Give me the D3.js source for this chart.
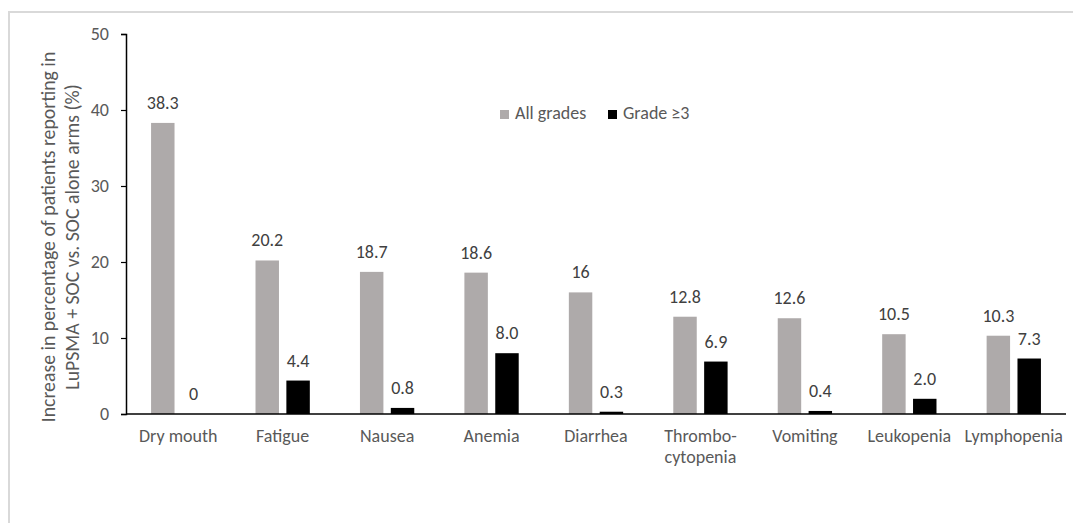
<!DOCTYPE html>
<html>
<head>
<meta charset="utf-8">
<script src="https://cdn.jsdelivr.net/npm/d3@7"></script>
<style>
  body { margin: 0; background: #fff; }
  svg text { font-family: Carlito, Calibri, "Open Sans", sans-serif; fill: #595959; }
</style>
</head>
<body>
<div id="chart"></div>
<script>
// chart values
const categories = ["Dry mouth", "Fatigue", "Nausea", "Anemia", "Diarrhea",
    "Thrombo-\ncytopenia", "Vomiting", "Leukopenia", "Lymphopenia"];
const series = ["All grades", "Grade \u22653"];
const allGrades = [38.3, 20.2, 18.7, 18.6, 16, 12.8, 12.6, 10.5, 10.3];
const grade3 = [0, 4.4, 0.8, 8.0, 0.3, 6.9, 0.4, 2.0, 7.3];
const allGradesLabels = ["38.3", "20.2", "18.7", "18.6", "16", "12.8", "12.6", "10.5", "10.3"];
const grade3Labels = ["0", "4.4", "0.8", "8.0", "0.3", "6.9", "0.4", "2.0", "7.3"];
const yTicks = [0, 10, 20, 30, 40, 50];
const colors = ["#aeaaaa", "#000000"];

var w = 1073, h = 523;
var margin = { top: 34, right: 7, bottom: 109, left: 126 },
    width = w - margin.left - margin.right,
    height = h - margin.top - margin.bottom;
var fs = "18px";

var svg = d3.select("#chart").append("svg")
    .attr("width", w)
    .attr("height", h);

// light frame around the chart area
svg.append("rect")
    .attr("x", 9).attr("y", 12)
    .attr("width", w + 20).attr("height", h + 20)
    .attr("fill", "none")
    .attr("stroke", "#d9d9d9")
    .attr("stroke-width", 2);

var g = svg.append("g")
    .attr("transform", `translate(${margin.left}, ${margin.top})`);

var x0 = d3.scaleBand()
    .domain(categories)
    .range([0, width])
    .paddingInner(0.48)
    .paddingOuter(0.24);

var x1 = d3.scaleBand()
    .domain(series)
    .range([0, x0.bandwidth()])
    .paddingInner(0.24);

var y = d3.scaleLinear()
    .domain([0, 50])
    .range([height, 0]);

const rows = categories.map((c, i) => ({
    cat: c,
    vals: [
        { s: series[0], v: allGrades[i], label: allGradesLabels[i] },
        { s: series[1], v: grade3[i], label: grade3Labels[i] }
    ]
}));

var groups = g.selectAll(".grp")
    .data(rows)
    .enter().append("g")
    .attr("class", "grp")
    .attr("transform", d => `translate(${x0(d.cat)}, 0)`);

groups.selectAll("rect")
    .data(d => d.vals)
    .enter().append("rect")
    .attr("x", d => x1(d.s))
    .attr("width", x1.bandwidth())
    .attr("y", d => y(d.v))
    .attr("height", d => height - y(d.v))
    .attr("fill", (d, i) => colors[i]);

// value labels above bars
groups.selectAll(".val")
    .data(d => d.vals)
    .enter().append("text")
    .attr("class", "val")
    .attr("x", d => x1(d.s) + x1.bandwidth() / 2)
    .attr("y", d => y(d.v) - 14)
    .attr("text-anchor", "middle")
    .style("font-size", fs)
    .style("fill", "#404040")
    .text(d => d.label);

// y axis
var yAxis = g.append("g")
    .call(d3.axisLeft(y).tickValues(yTicks).tickSize(5).tickPadding(12));
yAxis.select(".domain").attr("stroke", "#000").attr("stroke-width", 1.5);
yAxis.selectAll(".tick line").attr("stroke", "#000").attr("stroke-width", 1.2);
yAxis.selectAll(".tick text")
    .style("font-size", fs)
    .style("fill", "#595959")
    .attr("font-family", null);

// x axis line
g.append("line")
    .attr("x1", 0).attr("x2", width)
    .attr("y1", height).attr("y2", height)
    .attr("stroke", "#000")
    .attr("stroke-width", 1.5);

// category labels
var xl = g.selectAll(".xlab")
    .data(categories)
    .enter().append("text")
    .attr("class", "xlab")
    .attr("text-anchor", "middle")
    .attr("x", d => x0(d) + x0.bandwidth() / 2)
    .attr("y", height + 28)
    .style("font-size", fs);
xl.selectAll("tspan")
    .data(d => d.split("\n"))
    .enter().append("tspan")
    .attr("x", function () { return d3.select(this.parentNode).attr("x"); })
    .attr("dy", (d, i) => i === 0 ? 0 : 21)
    .text(d => d);

// y axis title
var yTitle = svg.append("text")
    .attr("transform", "translate(55, 237) rotate(-90)")
    .attr("text-anchor", "middle")
    .style("font-size", "19.8px");
yTitle.append("tspan").attr("x", 0).attr("dy", 0)
    .text("Increase in percentage of patients reporting in");
yTitle.append("tspan").attr("x", 0).attr("dy", 24)
    .text("LuPSMA + SOC vs. SOC alone arms (%)");

// legend
var legend = svg.append("g").attr("transform", "translate(500, 110)");
var items = [{ s: series[0], x: 0 }, { s: series[1], x: 108 }];
items.forEach((it, i) => {
    legend.append("rect")
        .attr("x", it.x).attr("y", 0)
        .attr("width", 9).attr("height", 9)
        .attr("fill", colors[i]);
    legend.append("text")
        .attr("x", it.x + 15).attr("y", 9)
        .style("font-size", fs)
        .text(it.s);
});
</script>
</body>
</html>
